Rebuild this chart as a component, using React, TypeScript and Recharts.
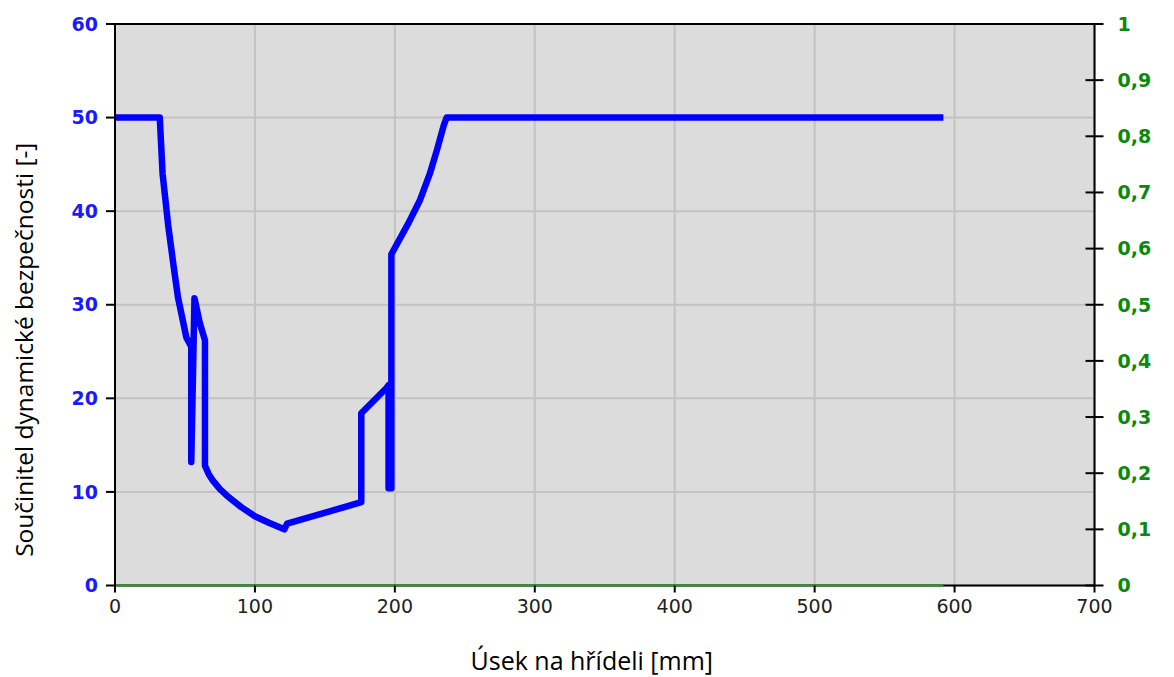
import React from "react";
import {
  LineChart,
  Line,
  XAxis,
  YAxis,
  CartesianGrid,
  ReferenceLine,
} from "recharts";

// position along the shaft [mm] and safety factor
const positions = [
  0, 32, 34, 38, 42, 45, 51, 54.5, 54.5, 56.8, 60.7, 64.3, 64.3, 67, 70, 75, 80,
  90, 100, 110, 121, 123, 176, 176, 194, 195.5, 195.5, 197.5, 197.5, 210, 218,
  225, 230, 235, 237, 592,
];
const safety = [
  50, 50, 44, 38.5, 34, 30.8, 26.5, 25.5, 13.2, 30.7, 28, 26.2, 12.8, 11.9,
  11.2, 10.3, 9.6, 8.4, 7.4, 6.7, 6.0, 6.6, 8.9, 18.4, 21.1, 21.4, 10.4, 10.4,
  35.4, 38.8, 41.2, 44, 46.5, 49.2, 50, 50,
];

// second series on the right axis
const greenPositions = [0, 592];
const greenValues = [0, 0];

const xTicks = [0, 100, 200, 300, 400, 500, 600, 700];
const leftTicks = [0, 10, 20, 30, 40, 50, 60];
const rightTicks = [0, 0.1, 0.2, 0.3, 0.4, 0.5, 0.6, 0.7, 0.8, 0.9, 1];

const blueData = positions.map((x, i) => ({ x, k: safety[i] }));
const greenData = greenPositions.map((x, i) => ({ x, g: greenValues[i] }));

const RightTick = (props: any) => {
  const { x, y, payload } = props;
  const axisX = x - 23;
  return (
    <g>
      <line x1={axisX - 9} x2={axisX} y1={y} y2={y} stroke="#000" strokeWidth={2} />
      <text
        x={x}
        y={y}
        dy="0.36em"
        textAnchor="start"
        fill="#0a8a0a"
        fontFamily="DejaVu Sans"
        fontWeight="bold"
        fontSize={19}
      >
        {String(payload.value).replace(".", ",")}
      </text>
    </g>
  );
};

export default function App() {
  return (
    <LineChart
      width={1160}
      height={668}
      margin={{ top: 16, right: 3.5, bottom: 20.5, left: 5 }}
      style={{ fontFamily: "DejaVu Sans" }}
    >
      <CartesianGrid yAxisId="left" stroke="#c2c2c2" strokeWidth={2} fill="#dcdcdc" />
      <XAxis
        dataKey="x"
        type="number"
        domain={[0, 700]}
        ticks={xTicks}
        height={70}
        tickSize={7}
        tickMargin={7}
        axisLine={false}
        tickLine={{ stroke: "#000", strokeWidth: 2 }}
        tick={{ fill: "#222", fontSize: 19, fontFamily: "DejaVu Sans" }}
        allowDuplicatedCategory={false}
        label={{
          content: ({ viewBox }: any) => (
            <text
              x={viewBox.x + viewBox.width / 2 - 13}
              y={viewBox.y + 84}
              textAnchor="middle"
              fill="#000"
              fontFamily="Open Sans"
              fontSize={25}
            >
              Úsek na hřídeli [mm]
            </text>
          ),
        }}
      />
      <YAxis
        yAxisId="left"
        domain={[0, 60]}
        ticks={leftTicks}
        width={102}
        tickSize={9}
        tickMargin={8}
        axisLine={{ stroke: "#000", strokeWidth: 2 }}
        tickLine={{ stroke: "#000", strokeWidth: 2 }}
        tick={{ fill: "#1a1aff", fontSize: 19, fontWeight: "bold", fontFamily: "DejaVu Sans" }}
        label={{
          content: ({ viewBox }: any) => {
            const cx = viewBox.x + 10;
            const cy = viewBox.y + viewBox.height / 2 + 45;
            return (
              <text
                x={cx}
                y={cy}
                transform={`rotate(-90 ${cx} ${cy})`}
                textAnchor="middle"
                dominantBaseline="central"
                fill="#000"
                fontFamily="Open Sans"
                fontSize={24.5}
              >
                Součinitel dynamické bezpečnosti [-]
              </text>
            );
          },
        }}
      />
      <YAxis
        yAxisId="right"
        orientation="right"
        domain={[0, 1]}
        ticks={rightTicks}
        width={70}
        tickSize={9}
        tickMargin={14}
        axisLine={{ stroke: "#000", strokeWidth: 2 }}
        tickLine={{ stroke: "#000", strokeWidth: 2 }}
        tick={<RightTick />}
      />
      <ReferenceLine yAxisId="left" y={60} stroke="#000" strokeWidth={2} />
      <ReferenceLine yAxisId="left" y={0} stroke="#000" strokeWidth={2} />
      <Line
        yAxisId="right"
        data={greenData}
        dataKey="g"
        type="linear"
        stroke="#22a022"
        strokeWidth={2}
        dot={false}
        isAnimationActive={false}
      />
      <Line
        yAxisId="left"
        data={blueData}
        dataKey="k"
        type="linear"
        stroke="#0000ff"
        strokeWidth={6.5}
        strokeLinejoin="round"
        dot={false}
        isAnimationActive={false}
      />
    </LineChart>
  );
}
